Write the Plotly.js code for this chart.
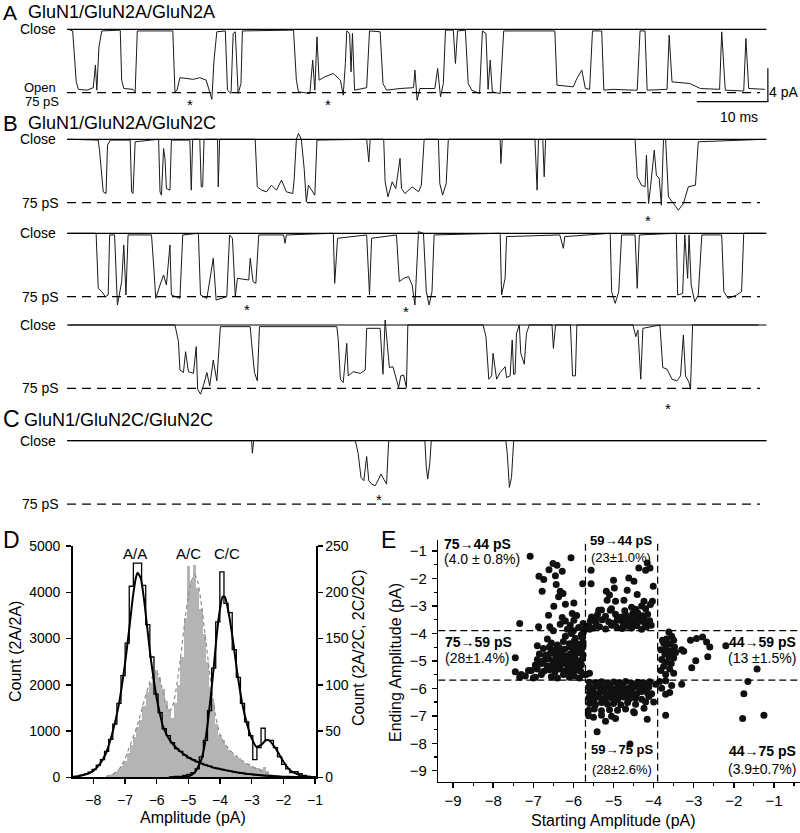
<!DOCTYPE html>
<html>
<head>
<meta charset="utf-8">
<script src="https://cdn.plot.ly/plotly-3.0.1.min.js"></script>
<style>
  html, body { margin: 0; padding: 0; background: #fff; }
  #fig { width: 800px; height: 833px; }
</style>
</head>
<body>
<div id="fig"></div>
<script>
// Single-channel records (time in ms, current in pA) — breakpoints.
const traceA = [[0.2,0],[0.8,-0.2],[1.3,-6.3],[1.6,-7.2],[2.8,-7.3],[3.7,-7.0],[4.0,-4.3],[4.2,-7.3],[4.5,-2.1],[4.9,-0.2],
  [7.5,-0.1],[7.7,-6.1],[8.0,-7.1],[9.3,-7.2],[9.6,-7.5],[9.9,-0.2],[14.9,-0.2],[15.2,-7.5],[15.5,-7.3],[15.9,-5.8],
  [17.8,-6.0],[18.7,-5.8],[19.6,-6.1],[20.0,-7.2],[20.4,-8.4],[20.7,-3.7],[21.1,-0.3],[22.3,-0.2],[22.6,-7.3],[23.1,-7.7],
  [23.4,-0.5],[23.7,-0.3],[24.1,-7.7],[24.5,-6.5],[24.7,-0.2],[31.9,-0.1],[32.3,-6.1],[32.6,-7.5],[34.2,-7.7],[34.6,-3.7],
  [34.9,-7.3],[35.2,-0.9],[35.5,-6.1],[36.3,-5.7],[37.5,-5.3],[38.5,-6.1],[38.9,-7.9],[39.2,-4.1],[39.4,-0.2],[39.8,-0.5],
  [40.0,-5.1],[40.2,-0.5],[40.5,-7.3],[42.2,-7.0],[42.6,-0.2],[44.1,-0.3],[44.5,-6.5],[45.0,-7.3],[46.9,-7.1],[48.8,-7.0],
  [49.0,-4.9],[49.3,-8.5],[49.7,-7.1],[51.8,-7.1],[52.2,-4.7],[52.6,-8.1],[53.0,-6.5],[53.3,-0.1],[54.4,-0.1],[54.7,-4.1],
  [55.0,-0.2],[56.1,-0.1],[56.5,-6.5],[57.0,-7.3],[58.1,-7.7],[58.5,-0.2],[59.0,-0.5],[59.3,-7.2],[59.6,-3.7],[59.9,-7.5],
  [61.0,-7.7],[61.5,-0.2],[68.7,-0.2],[69.0,-6.7],[71.3,-6.9],[71.8,-5.9],[72.5,-4.9],[73.0,-7.1],[73.6,-7.2],[74.0,-0.2],
  [75.3,-0.2],[75.6,-7.3],[76.9,-7.2],[79.8,-7.3],[80.3,-7.3],[80.7,-0.2],[81.4,-0.2],[81.7,-7.3],[84.5,-7.2],[84.8,-0.7],
  [85.2,-6.3],[87.7,-6.5],[89.2,-7.1],[91.9,-7.2],[92.2,-0.3],[92.7,-7.3],[95.3,-7.4],[95.6,-1.1],[96.0,-7.1],[98.3,-7.2]];

const traceB1 = [[0.2,0],[4.4,-0.1],[4.6,-1.5],[4.9,-4.3],[5.1,-6.3],[5.5,-6.5],[5.7,-0.7],[6.1,-0.1],[8.9,-0.1],[9.1,-6.3],
  [9.3,-6.5],[9.6,-0.3],[12.9,0],[13.1,-6.3],[13.3,-6.7],[13.6,-1.1],[13.8,-2.3],[14.0,-5.9],[14.5,-6.1],[14.7,-0.1],
  [17.3,-0.1],[17.5,-6.1],[17.7,0],[18.7,0],[18.9,-5.7],[19.1,-5.7],[19.3,0],[21.2,0],[21.3,-5.7],[21.5,0],
  [26.5,0],[26.8,-5.7],[27.4,-6.1],[28.1,-6.3],[28.8,-5.5],[29.5,-6.1],[30.2,-4.9],[30.9,-6.3],[31.8,-6.5],[32.0,-4.7],
  [32.3,0],[32.6,0.7],[33.0,0],[33.4,-3.5],[33.7,-7.5],[34.0,-5.5],[34.5,-6.1],[34.9,-6.7],[35.2,-0.1],[42.2,0],
  [42.5,-2.7],[42.7,0],[44.6,0],[44.8,-5.1],[45.2,-6.9],[45.8,-5.1],[46.3,-5.9],[46.9,-2.3],[47.1,-5.9],[47.6,-6.5],
  [48.6,-5.7],[49.5,-6.3],[49.9,-5.5],[50.3,0],[52.3,0],[52.5,-5.3],[52.9,-6.7],[53.4,-5.3],[53.7,0],[61.0,0],
  [61.1,-2.9],[61.3,0],[65.9,0],[66.2,-6.1],[66.4,0],[67.0,0],[67.2,-4.5],[67.4,0],[80.0,0],[80.3,-4.5],
  [80.9,-5.5],[81.4,-5.7],[81.6,-1.9],[81.9,-7.7],[82.2,-5.5],[82.7,-1.3],[83.0,-4.3],[83.4,-4.7],[83.7,-7.9],[84.0,0],
  [84.3,0],[84.7,-6.9],[85.4,-7.7],[86.1,-8.5],[86.8,-7.7],[87.5,-5.7],[88.5,-5.5],[88.9,-0.3],[98.3,0]];

const traceB2 = [[0.2,0],[4.1,0],[4.4,-6.6],[4.9,-7.0],[5.4,-7.6],[5.8,-7.4],[6.0,-0.2],[6.7,-0.2],[7.1,-8.6],[7.7,-5.8],
  [8.0,-1.4],[8.3,-7.4],[8.6,-0.2],[11.9,-0.2],[12.2,-3.8],[12.5,-7.8],[13.1,-6.2],[13.6,-5.0],[14.0,-6.2],[14.5,-1.4],
  [14.7,-7.4],[15.9,-7.8],[16.3,-0.2],[18.5,0],[18.8,-7.4],[19.7,-7.8],[20.6,-3.0],[21.0,-8.0],[22.5,-7.6],[22.9,-0.2],
  [23.3,-0.6],[23.7,-7.6],[24.0,-5.4],[25.6,-5.6],[25.8,-3.0],[26.2,-5.8],[26.6,-6.0],[27.0,-0.2],[30.5,-0.2],[30.7,-1.2],
  [30.9,-0.2],[37.5,0],[37.7,-6.0],[38.1,-0.6],[42.2,-0.2],[42.6,-7.4],[42.9,-0.6],[46.4,-0.2],[46.8,-5.8],[47.4,-5.4],
  [48.1,-5.2],[48.6,-6.2],[49.0,-8.6],[49.5,0.2],[50.2,0],[50.6,-7.0],[51.0,-8.6],[51.4,-7.0],[51.7,-0.2],[61.0,0],
  [61.2,-7.4],[61.7,-5.4],[61.9,-0.4],[69.4,-0.2],[69.9,-1.8],[70.1,-0.4],[76.5,0],[76.7,-7.0],[77.2,-8.4],[77.7,-7.0],
  [78.1,-0.2],[80.0,-0.2],[80.3,-6.6],[80.6,-0.2],[85.8,0],[86.0,-7.4],[86.7,-7.2],[87.0,-0.2],[87.4,-5.4],[87.6,-0.2],
  [87.9,-6.2],[88.4,-8.2],[88.9,-7.4],[89.4,-0.2],[92.2,-0.2],[92.5,-7.0],[93.1,-7.8],[94.3,-7.4],[95.0,-7.0],[95.3,0],[98.3,0]];

const traceB3 = [[0.2,0],[15.2,0],[15.7,-2.0],[15.9,-5.4],[16.4,-5.7],[16.7,-3.2],[17.1,-5.6],[17.8,-5.8],[18.2,-2.6],[18.4,-7.7],
  [18.8,-8.3],[19.2,-7.3],[19.7,-5.7],[20.1,-7.3],[20.6,-4.2],[21.1,-6.7],[21.6,-0.2],[25.8,-0.2],[26.0,-2.2],[26.4,-5.7],
  [26.8,-6.7],[27.1,-0.2],[38.0,-0.2],[38.2,-1.8],[38.5,-6.5],[38.9,-6.9],[39.4,-2.2],[39.6,-6.1],[40.3,-5.6],[41.3,-5.8],
  [42.0,-5.4],[42.2,-0.4],[44.1,-0.4],[44.5,-5.9],[44.8,0.6],[45.0,-1.4],[45.4,-5.1],[45.9,-5.0],[46.7,-7.5],[47.0,-6.1],
  [47.4,-6.0],[47.8,-7.5],[48.0,0],[58.6,0],[59.0,-1.4],[59.4,-6.5],[59.8,-6.1],[60.0,-3.4],[60.5,-6.5],[61.0,-5.7],
  [61.7,-5.0],[61.9,-6.3],[62.4,-6.1],[62.7,-1.8],[62.9,-5.9],[63.1,-5.9],[63.3,-1.0],[63.7,0],[63.9,-3.4],[64.4,-4.7],
  [64.7,-1.0],[65.1,0],[68.3,0],[68.5,-2.8],[68.8,0],[70.9,0],[71.2,-6.1],[71.6,-6.1],[71.8,0],[79.7,0],
  [80.1,-1.4],[80.4,-0.6],[80.8,-6.5],[81.1,-0.4],[83.5,0],[83.9,-5.1],[84.5,-5.3],[85.2,-6.5],[85.9,-6.7],[86.4,-6.1],
  [86.8,-1.2],[87.1,-6.1],[87.6,-6.9],[87.8,-7.7],[88.1,0],[97.4,0]];

const traceC = [[0.2,0],[26.0,0],[26.1,-1.5],[26.3,0],[40.6,0],[41.0,-1.5],[41.4,-4.4],[41.8,-4.8],[42.2,-1.9],[42.5,-4.8],
  [42.9,-5.2],[43.4,-5.4],[43.9,-4.6],[44.2,-4.0],[44.6,-4.6],[45.0,-5.2],[45.3,0],[50.4,0],[50.6,-3.2],[50.8,-4.6],
  [51.1,-2.6],[51.3,0],[61.8,0],[62.0,-1.5],[62.3,-5.6],[62.6,-4.4],[62.9,0],[98.5,0]];

// sublevel markers (*) per record
const starsA = [[17.3,-8.7],[36.8,-8.7]];
const starsB1 = [[81.8,-9.4]];
const starsB2 = [[25.4,-8.8],[47.8,-9.0]];
const starsB3 = [[84.6,-9.6]];
const starsC = [[43.9,-6.7]];
const OPEN_75 = -7.6;   // pA, 75 pS level

// Panel D: amplitude histograms
const acBars = [2,4,6,8,12,18,26,35,44,54,62,77,92,102,112,116,108,95,83,74,64,80,100,130,172,228,212,229,205,182,
  155,125,98,80,58,46,40,34,29,26,23,21,18,16,14,12,11,10,9,11,7,4,2];          // 2A/2C, x0 -7.5, dx 0.1
const aaSteps = [25,45,70,110,170,260,380,560,820,1150,1600,2200,2900,4130,4630,4630,4150,3300,2600,1800,
  1400,1050,900,750,620,560,480,420,380,340,300,270,240,210,190,170,150,135,115,100,
  90,75,65,55,45,38,30,22,17,12,8];                                                // 2A/2A, x0 -8.49, dx 0.13
const ccSteps = [0,0.5,1,1,2,3,5,9,22,40,72,118,168,222,188,178,138,108,80,60,
  45,19,32,53,40,40,32,22,14,9,5,6,4,2,1,0];                                         // 2C/2C, x0 -5.63, dx 0.13
const aaFit = [[-8.65,10],[-8.4,35],[-8.2,70],[-8.0,140],[-7.8,280],[-7.6,520],[-7.4,950],[-7.2,1550],[-7.0,2450],[-6.85,3300],
  [-6.75,3900],[-6.65,4330],[-6.6,4420],[-6.5,4300],[-6.4,3850],[-6.3,3250],[-6.2,2650],[-6.1,2150],[-6.0,1720],[-5.9,1380],
  [-5.8,1100],[-5.6,820],[-5.4,650],[-5.2,530],[-5.0,430],[-4.6,300],[-4.2,210],[-3.8,150],[-3.4,100],[-3.0,65],
  [-2.6,38],[-2.2,20],[-1.8,10],[-1.4,5],[-0.97,2]];
const ccFit = [[-5.6,0],[-5.2,0.3],[-5.0,1],[-4.8,5],[-4.6,18],[-4.5,32],[-4.4,55],[-4.3,85],[-4.2,118],[-4.1,155],
  [-4.0,182],[-3.92,195],[-3.85,195],[-3.75,182],[-3.6,150],[-3.45,112],[-3.3,80],[-3.15,58],[-3.0,42],[-2.85,33],
  [-2.7,35],[-2.55,40],[-2.45,40],[-2.3,34],[-2.15,26],[-2.0,17],[-1.8,8],[-1.6,4],[-1.4,1.5],[-1.2,0.5],[-0.97,0]];
const acFit = [[-7.6,1],[-7.4,3],[-7.2,8],[-7.0,20],[-6.8,38],[-6.6,57],[-6.4,82],[-6.2,104],[-6.05,113],[-5.95,111],
  [-5.8,92],[-5.7,78],[-5.6,71],[-5.5,76],[-5.4,92],[-5.25,128],[-5.1,172],[-5.0,196],[-4.9,212],[-4.8,219],
  [-4.7,211],[-4.6,190],[-4.45,148],[-4.3,105],[-4.15,68],[-4.0,46],[-3.85,36],[-3.65,28],[-3.45,22],[-3.25,17],
  [-3.05,13],[-2.85,9],[-2.65,6],[-2.45,3.5],[-2.25,1.5],[-2.05,0.5]];
const peakLabels = [['A/A',-6.68],['A/C',-5.01],['C/C',-3.78]];

// Panel E: [starting, ending] amplitude of each sublevel transition (pA)
const transitions = [
  // 75 -> 44
  [-7.08,-1.19],[-6.06,-1.25],[-6.41,-1.52],[-6.51,-1.46],[-6.61,-1.68],[-6.28,-1.74],[-6.86,-1.92],[-6.74,-2.04],[-6.78,-2.47],[-6.43,-2.22],
  [-6.33,-2.47],[-6.26,-2.55],[-6.37,-2.67],[-5.99,-2.89],[-6.2,-2.94],[-6.49,-3.01],[-6.03,-3.28],[-6.62,-3.34],[-6.28,-3.42],[-5.99,-3.52],
  [-7.34,-3.64],[-6.87,-3.76],[-6.59,-3.76],[-6.33,-3.67],[-6.08,-3.7],[-5.87,-3.79],[-5.76,-3.64],[-5.77,-2.19],[-6.45,-1.9],[-6.15,-3.85],
  [-6.0,-3.9],[-6.5,-3.9],[-6.2,-3.55],[-5.92,-3.35],[-5.7,-3.8],[-5.75,-3.95],
  // 59 -> 44
  [-5.56,-1.7],[-5.56,-2.19],[-5.18,-2.47],[-4.95,-2.83],[-5.0,-2.07],[-4.66,-2.43],[-4.62,-1.98],[-4.49,-2.1],[-4.37,-1.62],[-4.2,-1.7],
  [-4.09,-1.62],[-4.16,-1.44],[-4.01,-2.28],[-4.41,-2.58],[-4.24,-2.83],[-4.03,-2.83],[-5.16,-2.79],[-5.08,-3.16],[-4.74,-2.79],[-5.37,-3.16],
  [-4.83,-3.42],[-4.98,-2.35],[-5.1,-2.6],
  [-5.62,-3.72],[-5.5,-3.8],[-5.35,-3.76],[-5.2,-3.84],[-5.05,-3.7],[-4.92,-3.78],[-4.78,-3.82],[-4.66,-3.74],[-4.55,-3.8],[-4.42,-3.72],
  [-4.3,-3.85],[-4.18,-3.77],[-4.06,-3.7],
  [-5.58,-3.55],[-5.44,-3.6],[-5.28,-3.5],[-5.12,-3.58],[-4.98,-3.62],[-4.85,-3.52],[-4.7,-3.57],[-4.58,-3.6],[-4.46,-3.5],[-4.35,-3.56],
  [-4.22,-3.62],[-4.1,-3.54],
  [-5.55,-3.4],[-5.4,-3.32],[-5.2,-3.38],[-4.95,-3.3],[-4.8,-3.4],[-4.68,-3.35],[-4.52,-3.28],[-4.4,-3.42],[-4.28,-3.36],[-4.15,-3.3],
  [-5.3,-3.15],[-5.05,-3.1],[-4.72,-3.18],[-4.55,-3.05],[-4.45,-3.12],[-4.3,-3.0],[-4.2,-3.1],[-4.08,-2.95],
  [-4.9,-3.45],[-4.6,-3.45],[-4.75,-3.68],[-4.5,-3.68],[-4.25,-3.45],[-4.4,-3.25],[-5.45,-3.45],[-5.6,-3.85],
  // 75 -> 59
  [-6.2,-4.1],[-6.05,-4.0],[-5.95,-4.18],[-5.8,-4.05],
  [-6.55,-4.35],[-6.4,-4.42],[-6.25,-4.3],[-6.1,-4.38],[-5.98,-4.28],[-5.85,-4.4],[-5.76,-4.32],
  [-6.75,-4.55],[-6.6,-4.5],[-6.48,-4.6],[-6.35,-4.52],[-6.22,-4.58],[-6.1,-4.5],[-6.0,-4.62],[-5.9,-4.55],[-5.8,-4.6],
  [-6.85,-4.75],[-6.7,-4.8],[-6.58,-4.72],[-6.45,-4.78],[-6.32,-4.7],[-6.2,-4.82],[-6.08,-4.75],[-5.96,-4.8],[-5.86,-4.7],[-5.76,-4.78],
  [-6.9,-4.95],[-6.75,-5.0],[-6.62,-4.92],[-6.5,-5.0],[-6.38,-4.98],[-6.25,-4.9],[-6.12,-5.02],[-6.0,-4.95],[-5.9,-5.0],[-5.78,-4.92],
  [-6.95,-5.15],[-6.8,-5.1],[-6.66,-5.18],[-6.52,-5.12],[-6.4,-5.2],[-6.28,-5.1],[-6.15,-5.16],[-6.02,-5.12],[-5.92,-5.2],[-5.8,-5.14],
  [-7.05,-5.35],[-6.9,-5.3],[-6.74,-5.38],[-6.6,-5.32],[-6.46,-5.4],[-6.33,-5.3],[-6.2,-5.36],[-6.08,-5.42],[-5.95,-5.34],[-5.82,-5.38],
  [-7.2,-5.55],[-6.95,-5.6],[-6.8,-5.5],[-6.55,-5.58],[-6.4,-5.62],[-6.25,-5.5],[-6.1,-5.6],[-5.98,-5.55],[-5.85,-5.62],[-5.75,-5.5],
  [-7.45,-4.89],[-7.45,-5.4],[-7.34,-5.6],[-7.12,-5.35],[-7.3,-5.5],[-7.0,-5.62],[-6.9,-4.45],[-6.65,-4.2],[-5.78,-4.15],[-5.76,-4.45],
  [-5.68,-5.5],[-5.6,-5.45],[-6.3,-4.65],[-6.15,-4.9],[-6.45,-5.25],[-6.05,-5.25],[-6.0,-4.4],[-6.35,-4.88],
  // 59 -> 75
  [-5.6,-5.78],[-5.45,-5.8],[-5.3,-5.76],[-5.15,-5.82],[-5.0,-5.77],[-4.85,-5.8],[-4.7,-5.75],[-4.55,-5.82],[-4.4,-5.78],[-4.25,-5.8],[-4.1,-5.76],
  [-5.62,-5.95],[-5.5,-6.0],[-5.38,-5.92],[-5.25,-5.98],[-5.12,-5.95],[-5.0,-6.02],[-4.88,-5.92],[-4.75,-5.98],[-4.62,-6.0],[-4.5,-5.95],
  [-4.38,-5.92],[-4.25,-6.0],[-4.12,-5.95],
  [-5.6,-6.15],[-5.47,-6.2],[-5.33,-6.12],[-5.2,-6.18],[-5.07,-6.15],[-4.94,-6.22],[-4.8,-6.12],[-4.67,-6.18],[-4.54,-6.15],[-4.42,-6.2],
  [-4.3,-6.12],[-4.15,-6.18],
  [-5.62,-6.35],[-5.48,-6.4],[-5.35,-6.32],[-5.2,-6.38],[-5.05,-6.35],[-4.9,-6.42],[-4.75,-6.32],[-4.6,-6.38],[-4.45,-6.35],[-4.3,-6.4],[-4.12,-6.3],
  [-5.6,-6.55],[-5.45,-6.6],[-5.3,-6.52],[-5.15,-6.58],[-5.0,-6.55],[-4.82,-6.6],[-4.65,-6.52],[-4.45,-6.58],[-4.2,-6.5],
  [-5.62,-6.8],[-5.48,-6.75],[-5.3,-6.82],[-5.1,-6.78],[-4.9,-6.8],[-4.7,-6.75],[-4.5,-6.85],
  [-5.62,-7.0],[-5.5,-7.05],[-5.3,-6.98],[-5.05,-7.02],
  [-5.4,-5.88],[-5.1,-5.88],[-4.8,-5.88],[-4.5,-5.88],[-4.2,-5.88],[-4.95,-6.05],[-4.65,-6.08],[-5.3,-6.05],[-4.35,-6.05],[-5.55,-6.25],
  [-5.15,-6.28],[-4.85,-6.25],[-4.5,-6.28],
  [-5.41,-7.58],[-4.59,-8.03],[-4.95,-7.1],[-4.16,-7.13],[-4.24,-6.73],[-4.48,-6.89],[-5.2,-7.2],[-4.0,-6.5],[-4.05,-6.2],
  // 44 -> 59
  [-3.62,-3.95],[-3.55,-4.1],[-3.68,-4.2],[-3.5,-4.25],[-3.75,-4.35],[-3.6,-4.4],[-3.48,-4.5],[-3.7,-4.55],[-3.82,-4.6],[-3.58,-4.65],
  [-3.45,-4.7],[-3.72,-4.75],[-3.62,-4.85],[-3.5,-4.9],[-3.8,-4.95],[-3.68,-5.05],[-3.56,-5.1],[-3.75,-5.2],[-3.6,-5.3],[-3.82,-5.35],
  [-3.5,-5.45],[-3.7,-5.5],[-3.78,-4.25],[-3.55,-4.78],
  [-3.3,-4.6],[-3.08,-4.25],[-2.93,-4.19],[-2.78,-4.13],[-2.68,-4.31],[-2.6,-4.5],[-2.2,-4.45],[-2.65,-4.85],[-2.95,-5.0],[-3.05,-5.25],
  [-1.42,-5.3],[-3.25,-4.65],
  // 44 -> 75
  [-3.85,-5.75],[-3.95,-5.85],[-3.8,-6.0],[-3.7,-6.22],[-3.6,-6.15],[-3.7,-5.72],[-3.55,-5.9],[-3.3,-5.85],[-3.7,-6.98],
  [-1.65,-5.75],[-1.75,-6.2],[-1.78,-7.1],[-1.25,-6.98]
];
const sectorLines = [-3.9, -5.7];   // pA boundaries
const sectorLabels = [
  {head: '75→44 pS', pct: '(4.0 ± 0.8%)', x: -9.25, y: -0.74, y2: -1.3, anchor: 'left'},
  {head: '59→44 pS', pct: '(23±1.0%)', x: -4.81, y: -0.62, y2: -1.24, anchor: 'center', size: 13},
  {head: '75→59 pS', pct: '(28±1.4%)', x: -9.23, y: -4.33, y2: -4.91, anchor: 'left'},
  {head: '44→59 pS', pct: '(13 ±1.5%)', x: -0.42, y: -4.33, y2: -4.91, anchor: 'right'},
  {head: '59→75 pS', pct: '(28±2.6%)', x: -4.8, y: -8.22, y2: -8.97, anchor: 'center', size: 13},
  {head: '44→75 pS', pct: '(3.9±0.7%)', x: -0.42, y: -8.28, y2: -8.93, anchor: 'right'},
];

// ---------------------------------------------------------------------------
const FONT = 'Arial, "Liberation Sans", sans-serif';
const W = 800, H = 833;
const hdom = (l, r) => [l / W, r / W];
const vdom = (t, b) => [1 - b / H, 1 - t / H];
const px = (x) => x / W, py = (y) => 1 - y / H;

const rows = [
  {pts: traceA, stars: starsA, close: 29.3},
  {pts: traceB1, stars: starsB1, close: 139.3},
  {pts: traceB2, stars: starsB2, close: 233.3},
  {pts: traceB3, stars: starsB3, close: 325.0},
  {pts: traceC, stars: starsC, close: 440.7},
];

const data = [], shapes = [], annotations = [];
const layout = {
  width: W, height: H,
  margin: {l: 0, r: 0, t: 0, b: 0},
  paper_bgcolor: '#fff', plot_bgcolor: 'rgba(0,0,0,0)',
  showlegend: false,
  font: {family: FONT, color: '#000', size: 14},
  shapes, annotations,
};

// text placed on the page in pixels
function note(text, x, y, opts = {}) {
  annotations.push({xref: 'paper', yref: 'paper', x: px(x), y: py(y), text, showarrow: false,
    xanchor: opts.xanchor || 'center', yanchor: opts.yanchor || 'middle', textangle: opts.angle || 0,
    borderpad: 0, font: {size: opts.size || 14, family: FONT}});
}

const hidden = {visible: false, fixedrange: true};
rows.forEach((r, i) => {
  const n = i === 0 ? '' : String(i + 1);
  layout['xaxis' + n] = {...hidden, domain: hdom(67, 770), range: [0, 99], anchor: 'y' + n};
  layout['yaxis' + n] = {...hidden, domain: vdom(r.close - 16.7, r.close + 83.4), range: [-10, 2], anchor: 'x' + n};
  shapes.push({type: 'line', xref: 'x' + n, yref: 'y' + n, x0: 0, x1: 98.5, y0: 0, y1: 0,
               line: {color: '#000', width: 1.2}});
  shapes.push({type: 'line', xref: 'x' + n, yref: 'y' + n, x0: 0, x1: 97.6, y0: OPEN_75, y1: OPEN_75,
               line: {color: '#000', width: 1.2, dash: '9px,6px'}});
  data.push({x: r.pts.map(p => p[0]), y: r.pts.map(p => p[1]), xaxis: 'x' + n, yaxis: 'y' + n,
             type: 'scatter', mode: 'lines', line: {color: '#1a1a1a', width: 1}, hoverinfo: 'skip'});
  r.stars.forEach(s => annotations.push({xref: 'x' + n, yref: 'y' + n, x: s[0], y: s[1], text: '*',
    showarrow: false, yshift: -3, xanchor: 'center', yanchor: 'middle', font: {size: 15, family: FONT}}));
  note('Close', 57, r.close, {xanchor: 'right'});
  if (i === 0) {
    note('Open', 57, 87.5, {xanchor: 'right', size: 13});
    note('75 pS', 60, 101.5, {xanchor: 'right', size: 13});
  } else note('75 pS', 60, r.close + 63.4, {xanchor: 'right'});
});

// scale bar on record A (10 ms, 4 pA)
data.push({x: [88.7, 98.7, 98.7], y: [-8.68, -8.68, -4.68], xaxis: 'x', yaxis: 'y', type: 'scatter',
           mode: 'lines', line: {color: '#000', width: 1.2}, hoverinfo: 'skip'});
note('4 pA', 799, 92, {xanchor: 'right'});
note('10 ms', 739, 117);

// headings
note('A', 2, 0, {xanchor: 'left', yanchor: 'top', size: 21});
note('GluN1/GluN2A/GluN2A', 27, 1, {xanchor: 'left', yanchor: 'top', size: 18});
note('B', 2, 123, {xanchor: 'left', size: 22});
note('GluN1/GluN2A/GluN2C', 27, 123, {xanchor: 'left', size: 18});
note('C', 2, 419, {xanchor: 'left', size: 23});
note('GluN1/GluN2C/GluN2C', 23, 420, {xanchor: 'left', size: 18});
note('D', 2, 540, {xanchor: 'left', size: 23});
note('E', 380, 540, {xanchor: 'left', size: 23});

// ---- Panel D ----
const axLine = {showline: true, linecolor: '#000', linewidth: 1.5, ticks: 'outside', ticklen: 5, tickwidth: 1.5,
  tickcolor: '#000', showgrid: false, zeroline: false, fixedrange: true, tickfont: {size: 14, family: FONT}};
layout.xaxis6 = {...axLine, domain: hdom(72.7, 316), range: [-8.65, -0.97], anchor: 'y6', dtick: 1, tick0: -8,
  ticklabelstandoff: 4};
layout.yaxis6 = {...axLine, domain: vdom(546, 777.3), range: [0, 250], anchor: 'x6', side: 'right', dtick: 50};
layout.yaxis7 = {...axLine, domain: vdom(546, 777.3), range: [0, 5000], anchor: 'x6', overlaying: 'y6',
  side: 'left', dtick: 1000, ticklabelstandoff: 3};

data.push({type: 'bar', x0: -7.5, dx: 0.1, y: acBars, width: 0.1, xaxis: 'x6', yaxis: 'y6',
  marker: {color: '#b4b4b4', line: {width: 0}}, hoverinfo: 'skip'});
data.push({type: 'scatter', mode: 'lines', x: acFit.map(p => p[0]), y: acFit.map(p => p[1]), xaxis: 'x6', yaxis: 'y6',
  line: {color: '#8c8c8c', width: 1.2, dash: '4px,3px', shape: 'spline', smoothing: 0.6}, hoverinfo: 'skip'});
data.push({type: 'scatter', mode: 'lines', x0: -5.63, dx: 0.13, y: ccSteps, xaxis: 'x6', yaxis: 'y6',
  line: {color: '#000', width: 1.3, shape: 'hvh'}, hoverinfo: 'skip'});
data.push({type: 'scatter', mode: 'lines', x: ccFit.map(p => p[0]), y: ccFit.map(p => p[1]), xaxis: 'x6', yaxis: 'y6',
  line: {color: '#000', width: 2, shape: 'spline', smoothing: 0.6}, hoverinfo: 'skip'});
data.push({type: 'scatter', mode: 'lines', x0: -8.49, dx: 0.13, y: aaSteps, xaxis: 'x6', yaxis: 'y7',
  line: {color: '#000', width: 1.3, shape: 'hvh'}, hoverinfo: 'skip'});
data.push({type: 'scatter', mode: 'lines', x: aaFit.map(p => p[0]), y: aaFit.map(p => p[1]), xaxis: 'x6', yaxis: 'y7',
  line: {color: '#000', width: 2, shape: 'spline', smoothing: 0.6}, hoverinfo: 'skip'});
layout.bargap = 0;

peakLabels.forEach(([t, x]) => annotations.push({xref: 'x6', yref: 'y7', x, y: 4830, text: t, showarrow: false,
  xanchor: 'center', yanchor: 'middle', font: {size: 15, family: FONT}}));
note('Count (2A/2A)', 15, 652, {angle: -90, size: 16});
note('Count (2A/2C, 2C/2C)', 358, 648, {angle: -90, size: 16});
note('Amplitude (pA)', 193, 817, {size: 16});

// ---- Panel E ----
const minor = {ticks: 'outside', ticklen: 3, tickwidth: 1.2, tickcolor: '#000', dtick: 0.5};
layout.xaxis7 = {...axLine, domain: hdom(438.3, 800), range: [-9.37, -0.35], anchor: 'y8', dtick: 1, tick0: -9,
  minor, tickfont: {size: 15, family: FONT}};
layout.yaxis8 = {...axLine, domain: vdom(540, 781.7), range: [-9.4, -0.6], anchor: 'x7', dtick: 1, tick0: -9,
  minor, tickfont: {size: 15, family: FONT}, ticklabelstandoff: 2};

sectorLines.forEach(v => {
  shapes.push({type: 'line', xref: 'x7 domain', yref: 'y8', x0: 0, x1: 1, y0: v, y1: v,
    line: {color: '#000', width: 1.2, dash: '7px,4px'}});
  shapes.push({type: 'line', xref: 'x7', yref: 'y8 domain', x0: v, x1: v, y0: 0, y1: 1,
    line: {color: '#000', width: 1.2, dash: '7px,4px'}});
});
data.push({type: 'scatter', mode: 'markers', x: transitions.map(p => p[0]), y: transitions.map(p => p[1]),
  xaxis: 'x7', yaxis: 'y8', marker: {color: '#111', size: 7, line: {width: 0}}, hoverinfo: 'skip'});

sectorLabels.forEach(s => {
  const f = {size: s.size || 14, family: FONT};
  annotations.push({xref: 'x7', yref: 'y8', x: s.x, y: s.y, text: '<b>' + s.head + '</b>', showarrow: false,
    xanchor: s.anchor, yanchor: 'middle', borderpad: 0, font: f});
  annotations.push({xref: 'x7', yref: 'y8', x: s.x, y: s.y2, text: s.pct, showarrow: false,
    xanchor: s.anchor, yanchor: 'middle', borderpad: 0, font: f});
});
note('Ending Amplitude (pA)', 395, 663, {angle: -90, size: 16});
note('Starting Amplitude (pA)', 613, 820, {size: 16});

Plotly.newPlot('fig', data, layout, {staticPlot: true, displayModeBar: false});
</script>
</body>
</html>
